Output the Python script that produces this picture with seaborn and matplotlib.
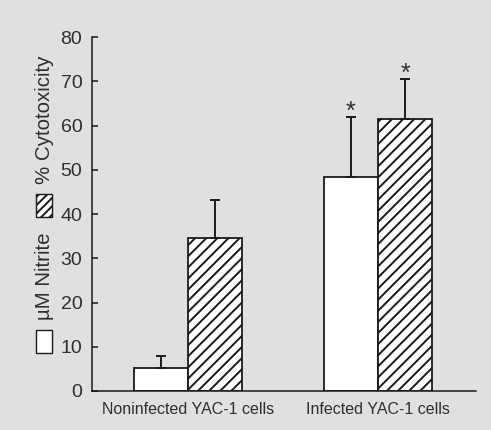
import pandas as pd
import matplotlib
matplotlib.use('Agg')
import matplotlib.pyplot as plt
from matplotlib.patches import Rectangle
import seaborn as sns

# values
groups = ['Noninfected YAC-1 cells', 'Infected YAC-1 cells']
series = ['µM Nitrite', '% Cytotoxicity']
nitrite = [5.2, 48.4]
nitrite_err = [2.8, 13.6]
cytotox = [34.5, 61.6]
cytotox_err = [8.7, 8.9]
significant = [False, True]
yticks = [0, 10, 20, 30, 40, 50, 60, 70, 80]

df = pd.DataFrame({
    'group': groups * 2,
    'series': [series[0]] * 2 + [series[1]] * 2,
    'value': nitrite + cytotox,
})

sns.set_style('white')
plt.rcParams['font.family'] = ['Liberation Sans', 'DejaVu Sans']
plt.rcParams['hatch.linewidth'] = 1.4
bg = '#e0e0e0'
ink = '#1a1a1a'
txt = '#2e2e2e'

fig = plt.figure(figsize=(4.91, 4.30), dpi=100, facecolor=bg)
ax = fig.add_axes([0.1874, 0.0907, 0.782, 0.823], facecolor=bg)

sns.barplot(data=df, x='group', y='value', hue='series', order=groups,
            hue_order=series, palette=['white', 'white'], saturation=1,
            width=0.57, gap=0, edgecolor=ink, linewidth=1.3,
            errorbar=None, legend=False, ax=ax)

# hatch the cytotoxicity bars, add upper error bars and asterisks
for cont, hatch, vals, errs in zip(ax.containers, ['', '///'],
                                   [nitrite, cytotox], [nitrite_err, cytotox_err]):
    for bar, v, e, sig in zip(cont, vals, errs, significant):
        bar.set_hatch(hatch)
        xc = bar.get_x() + bar.get_width() / 2
        ax.errorbar(xc, v, yerr=[[0], [e]], fmt='none', ecolor=ink,
                    capsize=3.3, elinewidth=1.4, capthick=1.4)
        if sig:
            ax.text(xc, v + e + 1.2, '*', ha='center', va='center',
                    fontsize=18, color=txt)

ax.set_ylim(0, 80)
ax.set_xlim(-0.505, 1.516)
ax.set_yticks(yticks)
ax.set_xlabel('')
ax.set_ylabel('')
sns.despine(ax=ax)
for side in ['left', 'bottom']:
    ax.spines[side].set_color(ink)
    ax.spines[side].set_linewidth(1.1)
ax.tick_params(axis='y', direction='in', length=4, width=1.1, color=ink,
               pad=7, labelsize=14, labelcolor=txt, left=True)
ax.tick_params(axis='x', length=0, pad=8, labelsize=11.5, labelcolor=txt)

# legend drawn as a rotated y label
fig.text(44 / 491, (430 - 276) / 430, series[0], rotation=90, ha='center',
         va='center', fontsize=14.8, color=txt)
fig.text(44 / 491, (430 - 120) / 430, series[1], rotation=90, ha='center',
         va='center', fontsize=14.8, color=txt)
fig.add_artist(Rectangle((36 / 491, (430 - 353) / 430), 16 / 491, 23 / 430,
                         transform=fig.transFigure, facecolor='white',
                         edgecolor=ink, linewidth=1.0))
fig.add_artist(Rectangle((36 / 491, (430 - 217) / 430), 16 / 491, 23 / 430,
                         transform=fig.transFigure, facecolor='white',
                         edgecolor=ink, linewidth=1.0, hatch='////'))

fig.savefig('out.png', dpi=100, facecolor=bg)
